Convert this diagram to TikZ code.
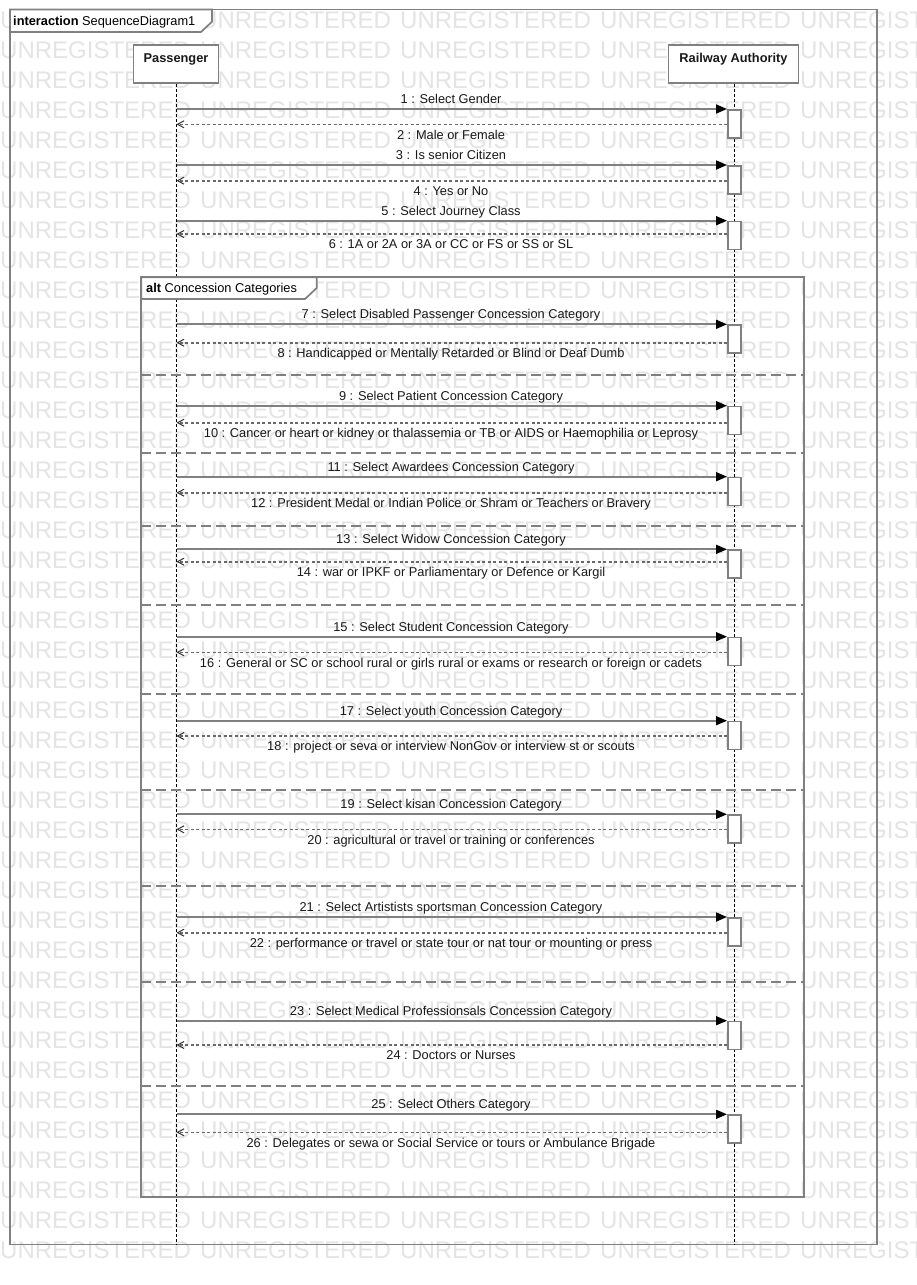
\documentclass[tikz,border=0pt]{standalone}
\usepackage{fontspec}
\setmainfont{Liberation Sans}
\usetikzlibrary{arrows.meta}
\definecolor{lgray}{RGB}{128,128,128}
\definecolor{dgray}{RGB}{105,105,105}
\definecolor{wmgray}{RGB}{228,228,228}
\begin{document}
\begin{tikzpicture}[x=1pt,y=-1pt,
  every node/.style={font=\fontsize{12.8}{15}\selectfont, inner sep=0pt},
  frameln/.style={draw=lgray, line width=1.7pt},
  lbox/.style={draw=lgray, line width=1.7pt, fill=white},
  lifeln/.style={draw=black, line width=0.9pt, dash pattern=on 3pt off 2pt},
  msgln/.style={draw=lgray, line width=1.7pt, -{Triangle[length=11pt,width=9pt,color=black,fill=black]}},
  retln/.style={draw=dgray, line width=1.6pt, dash pattern=on 3pt off 2.5pt, -{Straight Barb[length=6.5pt,width=7pt,line width=1pt,color=black!80]}},
  sepln/.style={draw=lgray, line width=1.7pt, dash pattern=on 10pt off 5pt},
  actbar/.style={draw=lgray, line width=1.7pt, fill=white},
  lbl/.style={anchor=base, text=black!90},
  wm/.style={anchor=base west, text=wmgray, font=\fontsize{24}{28}\selectfont}]
\useasboundingbox (0,0) rectangle (917,1285);
\fill[white] (0,0) rectangle (917,1285);
% watermark
\begin{scope}
\clip (0,0) rectangle (917,1285);
\foreach \r in {0,...,41}{
  \foreach \c in {0,200,400,600,800}{
    \node[wm] (wm-\r-\c) at (\c,28.5+30*\r) {UNREGISTERED};
  }
}
\end{scope}
% outer frame
\draw[frameln] (10,9.5) rectangle (877,1244.5);
\draw[frameln, fill=white] (10,9.5) -- (212,9.5) -- (212,21.7) -- (201,32) -- (10,32) -- cycle;
\node[anchor=base west] (ititle) at (13,25) {\textbf{interaction} SequenceDiagram1};
% lifeline heads
\node[lbox, minimum width=85pt, minimum height=38pt] (pass) at (176,64) {};
\node[lbl] (passlbl) at (176,62.5) {\textbf{Passenger}};
\node[lbox, minimum width=130pt, minimum height=38pt] (rail) at (733.5,64) {};
\node[lbl] (raillbl) at (733.5,62.5) {\textbf{Railway Authority}};
\coordinate (passend) at (176.5,1244.5);
\coordinate (railend) at (734,1244.5);
\draw[lifeln] (pass.south -| passend) -- (passend);
\draw[lifeln] (rail.south -| railend) -- (railend);
% alt frame
\draw[frameln] (141.3,277.3) rectangle (804.3,1196.7);
\draw[frameln, fill=white] (141.3,277.3) -- (316.7,277.3) -- (316.7,288) -- (305,299) -- (141.3,299) -- cycle;
\node[anchor=base west] (atitle) at (146,292) {\textbf{alt} Concession Categories};
% separators
\foreach \s [count=\k] in {375,453,525.7,605,694,790,885.7,981.7,1085.7}{
  \coordinate (sl\k) at (141.3,\s);
  \coordinate (sr\k) at (804.3,\s);
  \draw[sepln] (sl\k) -- (sr\k);
}
% messages
\foreach \n/\fy/\ry/\ft/\rt in {
 1/109/124.3/{1 : Select Gender}/{2 : Male or Female},
 3/165/180.7/{3 : Is senior Citizen}/{4 : Yes or No},
 5/220.7/234/{5 : Select Journey Class}/{6 : 1A or 2A or 3A or CC or FS or SS or SL},
 7/324.3/342.7/{7 : Select Disabled Passenger Concession Category}/{8 : Handicapped or Mentally Retarded or Blind or Deaf Dumb},
 9/405.7/422.7/{9 : Select Patient Concession Category}/{10 : Cancer or heart or kidney or thalassemia or TB or AIDS or Haemophilia or Leprosy},
 11/476.7/492.7/{11 : Select Awardees Concession Category}/{12 : President Medal or Indian Police or Shram or Teachers or Bravery},
 13/549.3/561.7/{13 : Select Widow Concession Category}/{14 : war or IPKF or Parliamentary or Defence or Kargil},
 15/636.7/652.3/{15 : Select Student Concession Category}/{16 : General or SC or school rural or girls rural or exams or research or foreign or cadets},
 17/720.7/736/{17 : Select youth Concession Category}/{18 : project or seva or interview NonGov or interview st or scouts},
 19/814.3/829.3/{19 : Select kisan Concession Category}/{20 : agricultural or travel or training or conferences},
 21/917/932.7/{21 : Select Artistists sportsman Concession Category}/{22 : performance or travel or state tour or nat tour or mounting or press},
 23/1020.7/1045/{23 : Select Medical Professionsals Concession Category}/{24 : Doctors or Nurses},
 25/1114.3/1132.3/{25 : Select Others Category}/{26 : Delegates or sewa or Social Service or tours or Ambulance Brigade}}{
  \coordinate (ps\n) at (176.5,\fy);
  \coordinate (ra\n) at (727,\fy);
  \coordinate (rb\n) at (727,\ry);
  \coordinate (pr\n) at (176.5,\ry);
  \draw[msgln] (ps\n) -- (ra\n);
  \draw[retln] (rb\n) -- (pr\n);
  \node[actbar, minimum width=13pt, minimum height=28pt, anchor=north west] (act\n) at (727,\fy) {};
  \node[lbl] (ml\n) at (451,\fy-5.5) {\ft};
  \node[lbl] (rl\n) at (451,\ry+14.8) {\rt};
}
\end{tikzpicture}
\end{document}
